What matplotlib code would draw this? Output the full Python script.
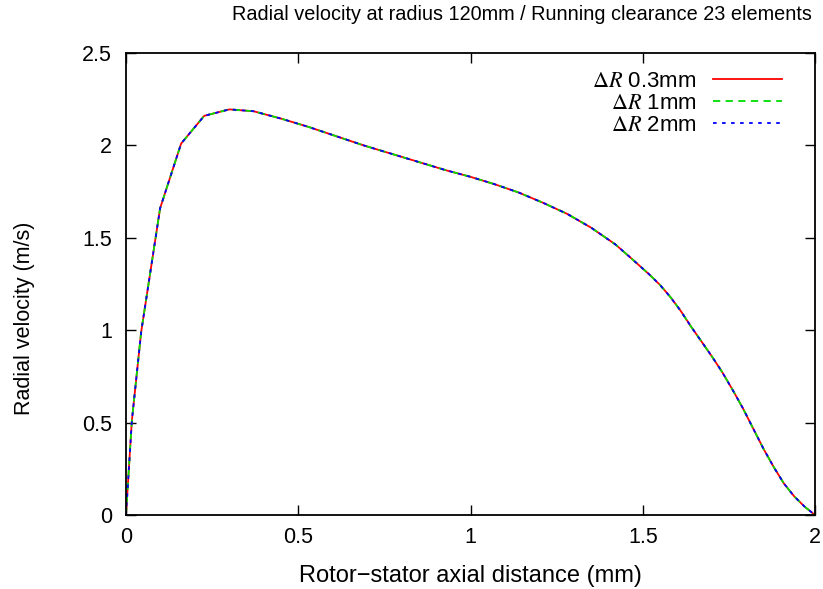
import matplotlib
matplotlib.use('Agg')
from matplotlib import pyplot

# axial position across the gap (mm) and radial velocity (m/s)
distance = [0, 0.017, 0.044, 0.099, 0.16, 0.227, 0.30, 0.37, 0.45, 0.53, 0.61,
            0.69, 0.77, 0.85, 0.93, 1.0, 1.07, 1.14, 1.21, 1.28, 1.35, 1.42,
            1.46, 1.49, 1.52, 1.55, 1.58, 1.61, 1.64, 1.67, 1.70, 1.73, 1.76,
            1.79, 1.82, 1.85, 1.88, 1.91, 1.94, 1.97, 2.0]
velocity_03 = [0.0, 0.51, 0.99, 1.66, 2.01, 2.16, 2.195, 2.185, 2.145, 2.10, 2.05,
               2.0, 1.955, 1.91, 1.865, 1.83, 1.79, 1.745, 1.69, 1.63, 1.555, 1.465,
               1.40, 1.35, 1.30, 1.245, 1.18, 1.105, 1.02, 0.94, 0.86, 0.775, 0.68,
               0.58, 0.47, 0.36, 0.26, 0.17, 0.10, 0.045, 0.0]
velocity_1 = list(velocity_03)
velocity_2 = list(velocity_03)

labels = [r'$\Delta R$ 0.3mm', r'$\Delta R$ 1mm', r'$\Delta R$ 2mm']
xticks = [0, 0.5, 1, 1.5, 2]
yticks = [0, 0.5, 1, 1.5, 2, 2.5]

pyplot.rcParams['font.family'] = ['Liberation Sans', 'DejaVu Sans']
pyplot.rcParams['mathtext.fontset'] = 'stix'

fig = pyplot.figure(figsize=(8.23, 5.89), dpi=100)
ax = fig.add_axes([0.1531, 0.1256, 0.8372, 0.7844])

ax.plot(distance, velocity_03, color='#ff0000', lw=1.3, ls='-', label=labels[0])
ax.plot(distance, velocity_1, color='#00dd00', lw=1.3, ls=(0, (4, 3)), label=labels[1])
ax.plot(distance, velocity_2, color='#0000ff', lw=1.3, ls=(0, (2, 3)), label=labels[2])

ax.set_xlim(0, 2)
ax.set_ylim(0, 2.5)
ax.set_xticks(xticks)
ax.set_xticklabels(['0', '0.5', '1', '1.5', '2'])
ax.set_yticks(yticks)
ax.set_yticklabels(['0', '0.5', '1', '1.5', '2', '2.5'])
ax.tick_params(direction='in', length=7, width=1, top=True, right=True,
               labelsize=15.5, colors='black')
ax.tick_params(axis='y', pad=10)
ax.tick_params(axis='x', pad=8.5)
for spine in ax.spines.values():
    spine.set_linewidth(1.3)

ax.set_xlabel('Rotor\u2212stator axial distance (mm)', fontsize=17)
ax.set_ylabel('Radial velocity (m/s)', fontsize=15.5)
ax.xaxis.set_label_coords(0.5, -0.108)
ax.yaxis.set_label_coords(-0.132, 0.426)
fig.text(522 / 823, 1 - 15 / 589,
         'Radial velocity at radius 120mm / Running clearance 23 elements',
         ha='center', va='center', fontsize=14.3)

ax.legend(loc='upper right', bbox_to_anchor=(0.975, 0.995), frameon=False,
          markerfirst=False, fontsize=16, handlelength=3.1, labelspacing=0.05,
          handletextpad=0.75, borderaxespad=0.3)

fig.savefig('out.png')
